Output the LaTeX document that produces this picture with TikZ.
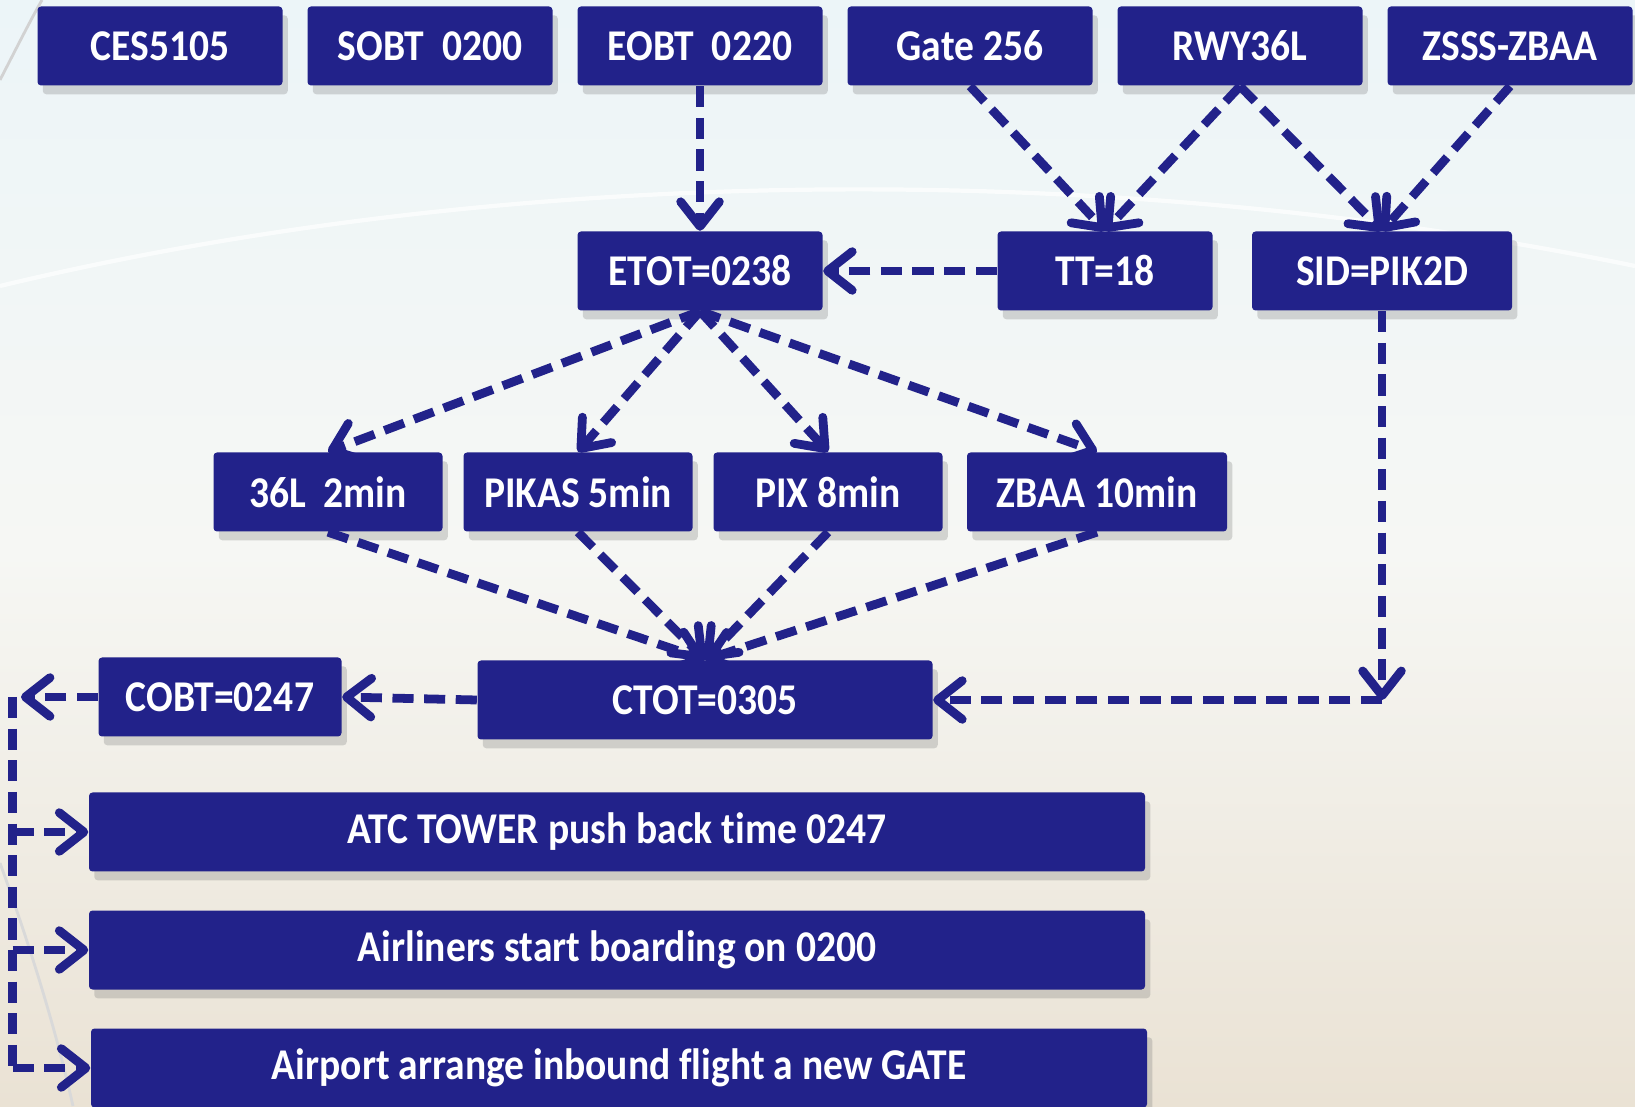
\documentclass[tikz,border=0pt]{standalone}
\usepackage{fontspec}
\setmainfont{Carlito}[FakeStretch=0.9, Ligatures=NoCommon]
\usetikzlibrary{arrows.meta,shadows}
\definecolor{boxblue}{RGB}{34,34,138}
\definecolor{bgtop}{RGB}{236,245,248}
\definecolor{bgmid}{RGB}{246,247,244}
\definecolor{bgbot}{RGB}{234,226,212}
\begin{document}
\begin{tikzpicture}[
  box/.style={fill=boxblue, text=white, font=\bfseries\fontsize{12.5}{14}\selectfont,
    rounded corners=1pt, minimum height=0.79cm, inner sep=0pt,
    drop shadow={shadow xshift=1.5pt, shadow yshift=-2.5pt, opacity=0.3}},
  link/.style={draw=boxblue, line width=2.5pt, dash pattern=on 6pt off 3pt,
    -{Straight Barb[length=7pt,width=11pt,round]}},
  plain/.style={draw=boxblue, line width=2.5pt, dash pattern=on 6pt off 3pt}
]
  \shade[top color=bgtop, bottom color=bgbot, middle color=bgmid] (0,0) rectangle (16.35,11.06);
  \useasboundingbox (0,0) rectangle (16.35,11.06);
  \draw[gray!35, line width=0.8pt] (0,10.26) .. controls (0.15,10.55) and (0.3,10.85) .. (0.42,11.06);
  \draw[white, line width=1.2pt, opacity=0.7] (0,8.2) .. controls (5,9.4) and (11,9.5) .. (16.35,8.4);
  \draw[gray!30, line width=0.8pt] (0,2.43) .. controls (0.3,1.6) and (0.55,0.8) .. (0.73,0);

  \node[box, minimum width=2.45cm] (ces) at (1.60,10.60) {CES5105};
  \node[box, minimum width=2.45cm] (sobt) at (4.30,10.60) {SOBT~~0200};
  \node[box, minimum width=2.45cm] (eobt) at (7.00,10.60) {EOBT~~0220};
  \node[box, minimum width=2.45cm] (gate) at (9.70,10.60) {Gate 256};
  \node[box, minimum width=2.45cm] (rwy) at (12.40,10.60) {RWY36L};
  \node[box, minimum width=2.45cm] (zsss) at (15.10,10.60) {ZSSS-ZBAA};

  \node[box, minimum width=2.45cm] (etot) at (7.00,8.35) {ETOT=0238};
  \node[box, minimum width=2.15cm] (tt) at (11.05,8.35) {TT=18};
  \node[box, minimum width=2.60cm] (sid) at (13.82,8.35) {SID=PIK2D};

  \node[box, minimum width=2.29cm] (rwyl) at (3.28,6.14) {36L~~2min};
  \node[box, minimum width=2.29cm] (pikas) at (5.78,6.14) {PIKAS 5min};
  \node[box, minimum width=2.29cm] (pix) at (8.28,6.14) {PIX 8min};
  \node[box, minimum width=2.60cm] (zbaa) at (10.97,6.14) {ZBAA 10min};

  \node[box, minimum width=2.43cm] (cobt) at (2.20,4.09) {COBT=0247};
  \node[box, minimum width=4.55cm] (ctot) at (7.05,4.06) {CTOT=0305};

  \node[box, minimum width=10.56cm] (atc) at (6.17,2.74) {ATC TOWER push back time 0247};
  \node[box, minimum width=10.56cm] (board) at (6.17,1.56) {Airliners start boarding on 0200};
  \node[box, minimum width=10.56cm] (newgate) at (6.19,0.38) {Airport arrange inbound flight a new GATE};

  \draw[link] (eobt.south) -- (etot.north);
  \draw[link] (gate.south) -- (tt.north);
  \draw[link] (rwy.south) -- (tt.north);
  \draw[link] (rwy.south) -- (sid.north);
  \draw[link] (zsss.south) -- (sid.north);
  \draw[link] (tt.west) -- (etot.east);

  \draw[link] (etot.south) -- (rwyl.north);
  \draw[link] (etot.south) -- (pikas.north);
  \draw[link] (etot.south) -- (pix.north);
  \draw[link] (etot.south) -- (zbaa.north);

  \draw[link] (rwyl.south) -- (ctot.north);
  \draw[link] (pikas.south) -- (ctot.north);
  \draw[link] (pix.south) -- (ctot.north);
  \draw[link] (zbaa.south) -- (ctot.north);

  \coordinate (turn) at (sid.south |- ctot.east);
  \draw[link] (sid.south) -- (turn);
  \draw[link] (turn) -- (ctot.east);
  \draw[link] (ctot.west) -- (cobt.east);

  \coordinate (tip) at (0.21,4.09);
  \coordinate (bustop) at (0.125,4.09);
  \coordinate (busbot) at (0.125,0.38);
  \draw[link] (cobt.west) -- (tip);
  \draw[plain] (bustop) -- (busbot);
  \draw[link] (0.125,2.74) -- (atc.west);
  \draw[link] (0.125,1.56) -- (board.west);
  \draw[link] (busbot) -- (newgate.west);
\end{tikzpicture}
\end{document}
